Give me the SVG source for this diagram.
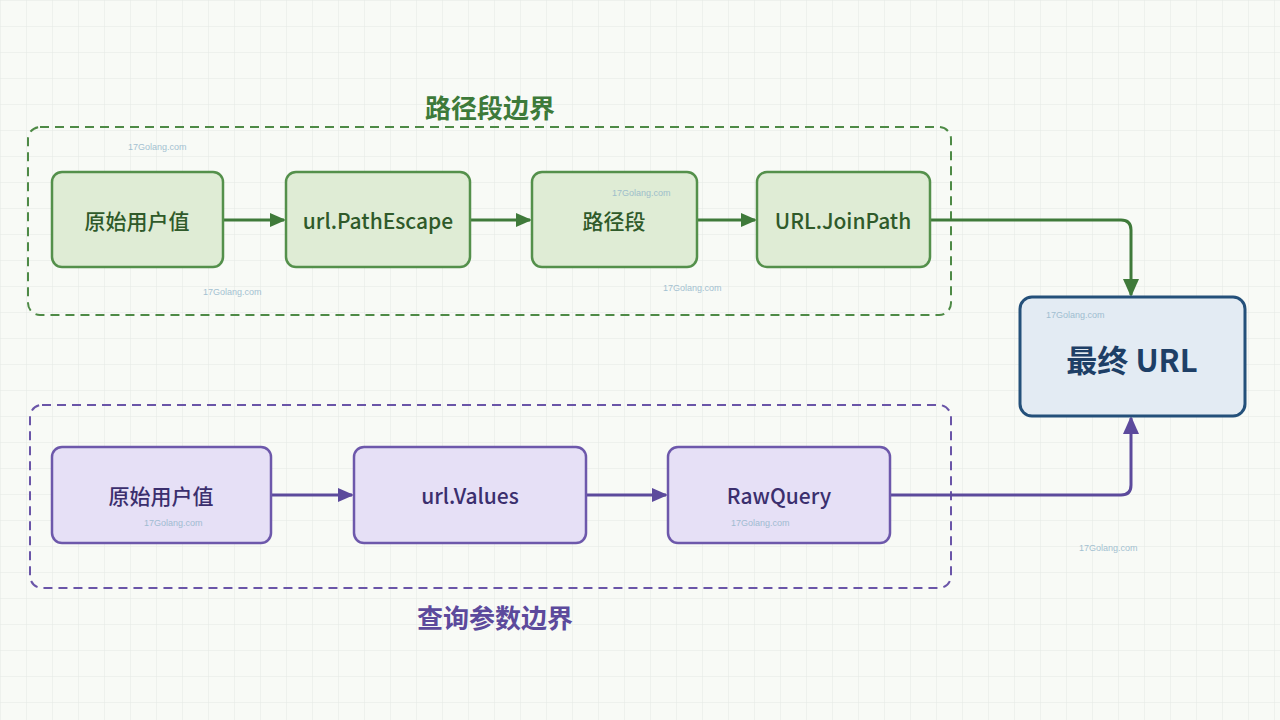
<svg xmlns="http://www.w3.org/2000/svg" width="1280" height="720" viewBox="0 0 1280 720">
<defs>
<pattern id="grid" width="26" height="26" patternUnits="userSpaceOnUse"><path d="M26 0H0V26" fill="none" stroke="#e3e8e3" stroke-width="1"/></pattern>
<marker id="ag" markerWidth="16" markerHeight="16" refX="14" refY="8" orient="auto" markerUnits="userSpaceOnUse" viewBox="0 0 16 16"><path d="M0 1L16 8L0 15z" fill="#3f7a3a"/></marker>
<marker id="ap" markerWidth="16" markerHeight="16" refX="14" refY="8" orient="auto" markerUnits="userSpaceOnUse" viewBox="0 0 16 16"><path d="M0 1L16 8L0 15z" fill="#5c4a9c"/></marker>
<marker id="ag2" markerWidth="18" markerHeight="18" refX="16" refY="9" orient="auto" markerUnits="userSpaceOnUse" viewBox="0 0 18 18"><path d="M0 1L18 9L0 17z" fill="#3f7a3a"/></marker>
<marker id="ap2" markerWidth="18" markerHeight="18" refX="16" refY="9" orient="auto" markerUnits="userSpaceOnUse" viewBox="0 0 18 18"><path d="M0 1L18 9L0 17z" fill="#5c4a9c"/></marker>
</defs>
<style>
text{font-family:"Noto Sans CJK SC","Noto Sans",sans-serif;text-anchor:middle;dominant-baseline:central}
.g{fill:#dfecd5;stroke:#54904b;stroke-width:2.5}
.p{fill:#e6e0f6;stroke:#6d58ab;stroke-width:2.5}
.gt{fill:#2f5a2a;font-size:21px;font-weight:500}
.pt{fill:#3b2f6e;font-size:21px;font-weight:500}
.wm{fill:#8fb3c9;font-size:9px;font-family:"Liberation Sans",sans-serif;text-anchor:start}
</style>
<rect width="1280" height="720" fill="#f8faf6"/>
<rect width="1280" height="720" fill="url(#grid)"/>
<g id="group-path">
<rect x="28" y="127" width="923" height="188" rx="12" fill="none" stroke="#4e8a46" stroke-width="2" stroke-dasharray="9 6"/>
<text x="490" y="106" font-size="26" font-weight="700" fill="#3d7a3a">路径段边界</text>
</g>
<g id="group-query">
<rect x="30" y="405" width="921" height="183" rx="12" fill="none" stroke="#6a55a8" stroke-width="2" stroke-dasharray="9 6"/>
<text x="495" y="616" font-size="26" font-weight="700" fill="#5c4a9c">查询参数边界</text>
</g>
<g id="connectors" fill="none" stroke-width="3">
<path d="M223 220H284" stroke="#3f7a3a" marker-end="url(#ag)"/>
<path d="M470 220H530" stroke="#3f7a3a" marker-end="url(#ag)"/>
<path d="M697 220H755" stroke="#3f7a3a" marker-end="url(#ag)"/>
<path d="M930 220H1121Q1131 220 1131 230V295" stroke="#3f7a3a" marker-end="url(#ag2)"/>
<path d="M271 495H352" stroke="#5c4a9c" marker-end="url(#ap)"/>
<path d="M586 495H666" stroke="#5c4a9c" marker-end="url(#ap)"/>
<path d="M890 495H1121Q1131 495 1131 485V418" stroke="#5c4a9c" marker-end="url(#ap2)"/>
</g>
<g id="n1"><rect class="g" x="52" y="172" width="171" height="95" rx="10"/><text class="gt" x="137" y="220">原始用户值</text></g>
<g id="n2"><rect class="g" x="286" y="172" width="184" height="95" rx="10"/><text class="gt" x="378" y="220">url.PathEscape</text></g>
<g id="n3"><rect class="g" x="532" y="172" width="165" height="95" rx="10"/><text class="gt" x="614" y="220">路径段</text></g>
<g id="n4"><rect class="g" x="757" y="172" width="173" height="95" rx="10"/><text class="gt" x="843" y="220">URL.JoinPath</text></g>
<g id="n5"><rect x="1020" y="297" width="225" height="119" rx="12" fill="#e3ebf3" stroke="#24507a" stroke-width="3"/><text x="1132" y="358" font-size="31" font-weight="600" fill="#1e3f66">最终 URL</text></g>
<g id="n6"><rect class="p" x="52" y="447" width="219" height="96" rx="10"/><text class="pt" x="161" y="495">原始用户值</text></g>
<g id="n7"><rect class="p" x="354" y="447" width="232" height="96" rx="10"/><text class="pt" x="470" y="495">url.Values</text></g>
<g id="n8"><rect class="p" x="668" y="447" width="222" height="96" rx="10"/><text class="pt" x="779" y="495">RawQuery</text></g>
<g id="watermarks" opacity="0.8">
<text class="wm" x="128" y="147">17Golang.com</text>
<text class="wm" x="612" y="193">17Golang.com</text>
<text class="wm" x="203" y="292">17Golang.com</text>
<text class="wm" x="663" y="288">17Golang.com</text>
<text class="wm" x="1046" y="315">17Golang.com</text>
<text class="wm" x="144" y="523">17Golang.com</text>
<text class="wm" x="731" y="523">17Golang.com</text>
<text class="wm" x="1079" y="548">17Golang.com</text>
</g>
</svg>
